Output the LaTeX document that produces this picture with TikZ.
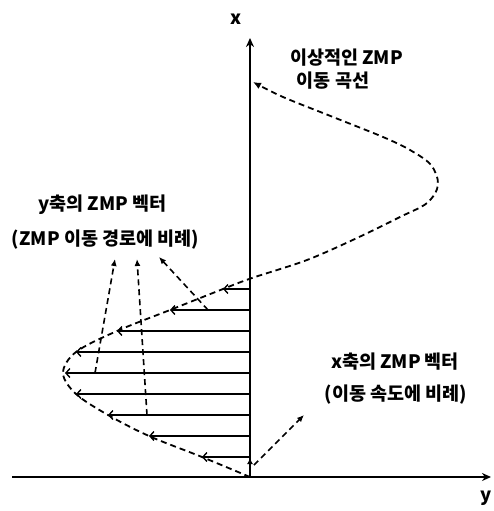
\documentclass[tikz,border=0pt]{standalone}
\usepackage{fontspec}
\setmainfont{Noto Sans CJK KR}
\usetikzlibrary{arrows.meta}
\begin{document}
\begin{tikzpicture}[x=1pt,y=-1pt,
 axis/.style={line width=2.4pt,-{Stealth[length=9pt,width=8pt]}},
 vec/.style={line width=1.2pt,-{Straight Barb[length=4pt,width=9pt,line width=1.4pt]}},
 zmppath/.style={line width=1.8pt,dash pattern=on 6pt off 4pt},
 ptr/.style={line width=1.6pt,dash pattern=on 6pt off 4pt,-{Latex[length=7pt,width=6pt]}},
 lbl/.style={font=\fontsize{18.5}{21}\selectfont\bfseries, inner sep=0pt}]
\useasboundingbox (0,0) rectangle (493,511);
% axes
\coordinate (O) at (250,477);
\coordinate (xtop) at (250,38);
\coordinate (yst) at (12,477);
\coordinate (yend) at (491,477);
\draw[axis] (O) -- (xtop);
\draw[axis] (yst) -- (yend);
% horizontal vectors
\foreach \i/\yy/\xx in {1/289/223,2/310/170,3/331/117,4/352/76,5/373/65,6/394/76,7/415/108,8/436/149,9/457/202}{
  \coordinate (a\i) at (250,\yy);
  \coordinate (b\i) at (\xx,\yy);
  \draw[vec] (a\i) -- (b\i);
}
% ideal ZMP curve
\coordinate (cend) at (253,82);
\draw[zmppath,-{Latex[length=8pt,width=7pt]}] plot[smooth,tension=0.55] coordinates {
 (250,477) (202,457) (149,436) (108,415) (76,394) (63,373) (76,352) (117,331) (170,310) (223,289) (252,278)
 (307,260) (357,238) (400,217) (427,203) (438,185) (431,165) (410,150) (383,137) (333,117) (283,97) (cend)};
% x-axis ZMP vector (small)
\coordinate (vx0) at (250,472);
\coordinate (vx1) at (250,458);
\draw[line width=1.2pt,-{Latex[length=6pt,width=6pt]}] (vx0) -- (vx1);
% pointers
\coordinate (p1s) at (95,373);  \coordinate (p1e) at (115,259);
\coordinate (p2s) at (147,415); \coordinate (p2e) at (137,259);
\coordinate (p3s) at (208,310); \coordinate (p3e) at (159,257);
\coordinate (p4s) at (254,465); \coordinate (p4e) at (304,415);
\draw[ptr] (p1s) -- (p1e);
\draw[ptr] (p2s) -- (p2e);
\draw[ptr] (p3s) -- (p3e);
\draw[ptr] (p4s) -- (p4e);
% labels
\node[lbl] (xl) at (236,19) {x};
\node[lbl] (yl) at (486,498) {y};
\node[lbl] (t1) at (346.5,58) {이상적인 ZMP};
\node[lbl] (t2) at (333,81) {이동 곡선};
\node[lbl] (t3) at (102.5,205) {y축의 ZMP 벡터};
\node[lbl] (t4) at (105.5,240) {(ZMP 이동 경로에 비례)};
\node[lbl] (t5) at (395,362) {x축의 ZMP 벡터};
\node[lbl] (t6) at (396,395) {(이동 속도에 비례)};
\end{tikzpicture}
\end{document}
